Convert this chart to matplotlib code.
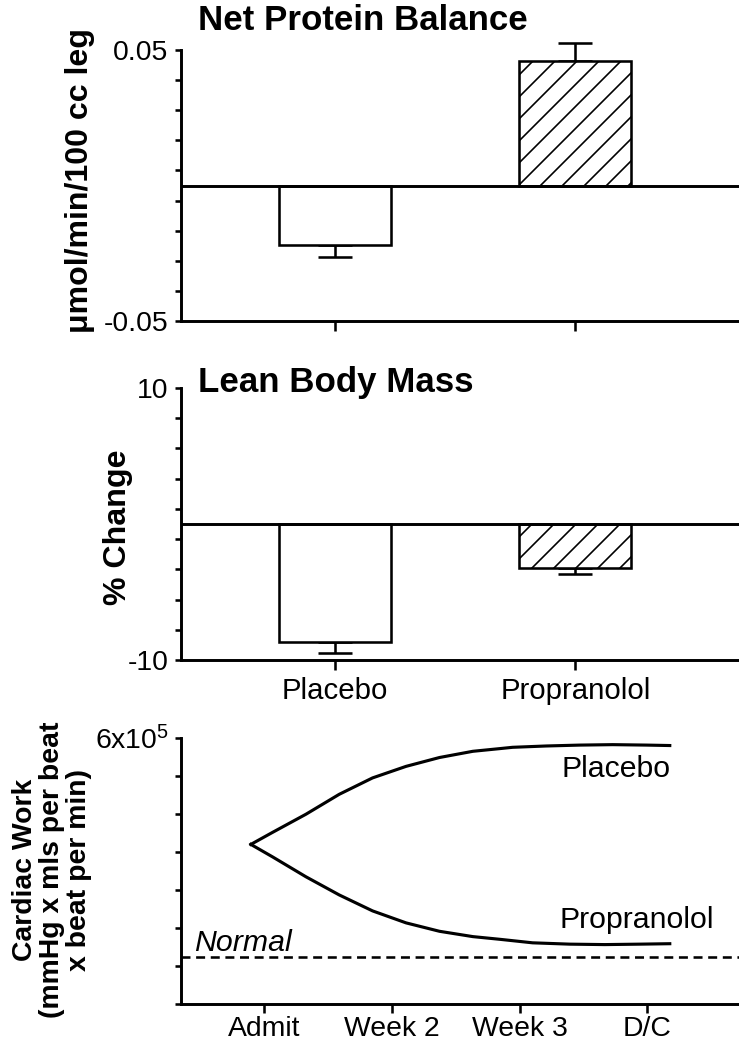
import numpy as np
import matplotlib
matplotlib.use('Agg')
import matplotlib.pyplot as plt

# bar panels
groups = ['Placebo', 'Propranolol']
protein_balance = [-0.022, 0.046]
protein_err = [0.0044, 0.0066]
lean_mass = [-8.7, -3.2]
lean_err = [0.8, 0.5]

# cardiac work curves
weeks = ['Admit', 'Week 2', 'Week 3', 'D/C']
placebo_x = [-0.104, 0.065, 0.327, 0.588, 0.849, 1.111, 1.373, 1.634,
             1.843, 1.945, 2.209, 2.471, 2.729, 2.994, 3.176]
placebo_work = [3.60e5, 3.87e5, 4.28e5, 4.73e5, 5.10e5, 5.36e5, 5.56e5,
                5.70e5, 5.76e5, 5.79e5, 5.82e5, 5.84e5, 5.85e5, 5.84e5,
                5.83e5]
propranolol_x = [-0.104, 0.065, 0.327, 0.588, 0.849, 1.111, 1.373, 1.634,
                 1.843, 2.102, 2.392, 2.667, 2.941, 3.176]
propranolol_work = [3.60e5, 3.32e5, 2.87e5, 2.46e5, 2.10e5, 1.83e5, 1.64e5,
                    1.52e5, 1.46e5, 1.38e5, 1.35e5, 1.34e5, 1.35e5, 1.36e5]
normal_work = 1.05e5

W, H, DPI = 739, 1050, 132
plt.rcParams['font.family'] = ['Liberation Sans', 'DejaVu Sans']
plt.rcParams['mathtext.fontset'] = 'custom'
plt.rcParams['mathtext.rm'] = 'Liberation Sans'
plt.rcParams['mathtext.default'] = 'regular'
plt.rcParams['hatch.linewidth'] = 0.9

fig = plt.figure(figsize=(W / DPI, H / DPI), dpi=DPI)


def rect(top, bottom, left=181, right=739):
    return [left / W, 1 - bottom / H, (right - left) / W, (bottom - top) / H]


def fy(y):
    return 1 - y / H


def style(ax):
    for s in ['top', 'right']:
        ax.spines[s].set_visible(False)
    for s in ['left', 'bottom']:
        ax.spines[s].set_linewidth(1.6)
    ax.tick_params(axis='y', which='both', direction='out', length=3.3,
                   width=1.4, labelsize=15.5, pad=3.5)
    ax.tick_params(axis='x', which='both', direction='out', length=5.5,
                   width=1.4, labelsize=16, pad=4)


def draw_bars(ax, vals, errs):
    pos = np.arange(len(vals))
    bars = ax.bar(pos, vals, 0.465, color='white', edgecolor='black',
                  linewidth=1.4, zorder=2)
    bars[1].set_hatch('//')
    lo = [e if v < 0 else 0 for v, e in zip(vals, errs)]
    hi = [e if v > 0 else 0 for v, e in zip(vals, errs)]
    eb = ax.errorbar(pos, vals, yerr=[lo, hi], fmt='none', ecolor='black',
                     elinewidth=1.4, capsize=9.5, capthick=1.4, zorder=1)
    for art in eb.lines[1] + eb.lines[2]:
        art.set_clip_on(False)
    ax.axhline(0, color='black', lw=1.6, zorder=3)
    ax.set_xlim(-0.639, 1.680)
    ax.set_xticks(pos)


# top panel
ax1 = fig.add_axes(rect(50, 321))
style(ax1)
draw_bars(ax1, protein_balance, protein_err)
ax1.set_ylim(-0.05, 0.05)
ax1.set_yticks([-0.05, 0.05])
ax1.set_yticklabels(['-0.05', '0.05'])
ax1.set_yticks(np.linspace(-0.05, 0.05, 10), minor=True)
ax1.set_xticklabels([])
fig.text(198 / W, fy(4), 'Net Protein Balance', fontsize=19,
         fontweight='bold', ha='left', va='top')
fig.text(80 / W, fy(180), 'μmol/min/100 cc leg', fontsize=17.5,
         fontweight='bold', rotation=90, ha='center', va='center')

# middle panel
ax2 = fig.add_axes(rect(388, 660))
style(ax2)
draw_bars(ax2, lean_mass, lean_err)
ax2.set_ylim(-10, 10)
ax2.set_yticks([-10, 10])
ax2.set_yticklabels(['-10', '10'])
ax2.set_yticks(np.linspace(-10, 10, 10), minor=True)
ax2.set_xticklabels(groups)
fig.text(198 / W, fy(366), 'Lean Body Mass', fontsize=19,
         fontweight='bold', ha='left', va='top')
fig.text(118 / W, fy(527), '% Change', fontsize=17.5, fontweight='bold',
         rotation=90, ha='center', va='center')

# bottom panel
ax3 = fig.add_axes(rect(738, 1004))
style(ax3)
ax3.plot(placebo_x, placebo_work, color='black', lw=1.7,
         solid_joinstyle='round')
ax3.plot(propranolol_x, propranolol_work, color='black', lw=1.7,
         solid_joinstyle='round')
ax3.axhline(normal_work, color='black', lw=1.4, ls=(0, (3.5, 2.2)))
ax3.set_xlim(-0.651, 3.718)
ax3.set_ylim(0, 6e5)
ax3.set_yticks([6e5])
ax3.set_yticklabels(['6x10$^5$'])
ax3.set_yticks(np.linspace(0, 6e5, 8), minor=True)
ax3.set_xticks(range(len(weeks)))
ax3.set_xticklabels(weeks)
ax3.tick_params(axis='x', length=5, pad=1.5, labelsize=15.5)
ax3.text(2.33, 5.13e5, 'Placebo', fontsize=16.5, ha='left', va='baseline')
ax3.text(2.31, 1.72e5, 'Propranolol', fontsize=16.5, ha='left',
         va='baseline')
ax3.text(-0.55, 1.2e5, 'Normal', fontsize=16.5, style='italic', ha='left',
         va='baseline')
fig.text(52 / W, fy(870),
         'Cardiac Work\n(mmHg x mls per beat\nx beat per min)',
         fontsize=15.5, fontweight='bold', rotation=90, ha='center',
         va='center', multialignment='center', linespacing=1.05)

fig.savefig('out.png', dpi=DPI)
